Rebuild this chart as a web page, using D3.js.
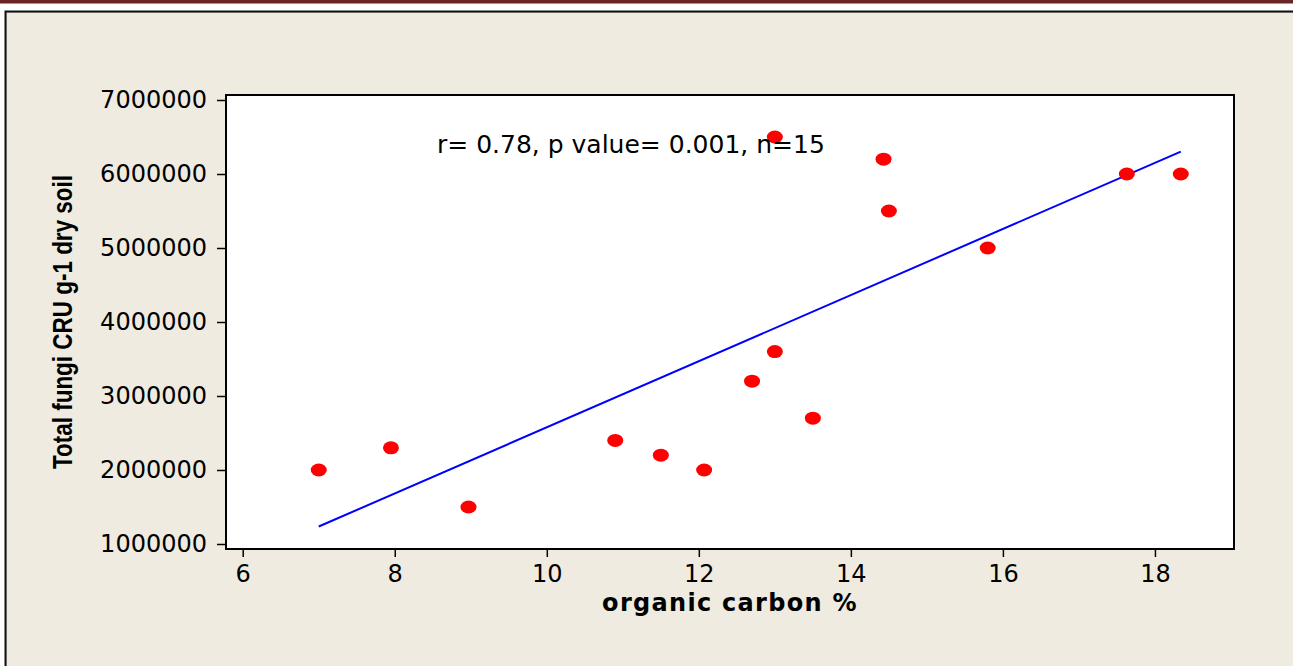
<!DOCTYPE html>
<html>
<head>
<meta charset="utf-8">
<script src="https://cdn.jsdelivr.net/npm/d3@7"></script>
<style>
  html, body { margin: 0; padding: 0; background: #ffffff; overflow: hidden; }
  svg { display: block; }
</style>
</head>
<body>
<svg id="chart" width="1293" height="666"></svg>
<script>
// Organic carbon (%) of each soil sample
const organicCarbon = [7.0, 7.95, 8.97, 10.9, 11.5, 12.07, 12.7, 13.0, 13.0, 13.5, 14.43, 14.5, 15.8, 17.63, 18.34];
// Total fungi (CFU per g dry soil) for the same samples
const totalFungi = [2000000, 2300000, 1500000, 2400000, 2200000, 2000000, 3200000, 3600000, 6500000, 2700000, 6200000, 5500000, 5000000, 6000000, 6000000];

const xTicks = [6, 8, 10, 12, 14, 16, 18];
const yTicks = [1000000, 2000000, 3000000, 4000000, 5000000, 6000000, 7000000];
const xDomain = [5.78, 19.04];
const yDomain = [932400, 7067600];

const statsLabel = "r= 0.78, p value= 0.001, n=15";
const xTitle = "organic carbon %";
const yTitle = "Total fungi CRU g-1 dry soil";

const W = 1293, H = 666;
const plot = { left: 226, top: 95, right: 1234, bottom: 549 };

const svg = d3.select("#chart");

// page header strip and the framed panel
svg.append("rect").attr("x", 0).attr("y", 0).attr("width", W).attr("height", 3.5).attr("fill", "#6b2323");
svg.append("rect").attr("x", 6).attr("y", 12).attr("width", W + 10).attr("height", H + 10)
  .attr("fill", "#efebe0").attr("stroke", "#9a9a9a").attr("stroke-width", 1);
svg.append("rect").attr("x", 5.5).attr("y", 11.5).attr("width", W + 10).attr("height", H + 10)
  .attr("fill", "none").attr("stroke", "#111").attr("stroke-width", 2);

const x = d3.scaleLinear().domain(xDomain).range([plot.left, plot.right]);
const y = d3.scaleLinear().domain(yDomain).range([plot.bottom, plot.top]);

// white plotting area
svg.append("rect")
  .attr("x", plot.left).attr("y", plot.top)
  .attr("width", plot.right - plot.left).attr("height", plot.bottom - plot.top)
  .attr("fill", "#ffffff");

const tickFont = "'DejaVu Sans', Verdana, sans-serif";

// axes
const xAxis = d3.axisBottom(x).tickValues(xTicks).tickSize(8).tickPadding(8).tickFormat(d3.format("d"));
const yAxis = d3.axisLeft(y).tickValues(yTicks).tickSize(9).tickPadding(10).tickFormat(d3.format("d"));

const gx = svg.append("g").attr("transform", `translate(0,${plot.bottom})`).call(xAxis);
const gy = svg.append("g").attr("transform", `translate(${plot.left},0)`).call(yAxis);

[gx, gy].forEach(g => {
  g.select(".domain").remove();
  g.selectAll(".tick line").attr("stroke", "#000").attr("stroke-width", 1.5);
  g.selectAll(".tick text").attr("fill", "#000").style("font-family", tickFont).style("font-size", "24px");
});

// frame around the plotting area
svg.append("rect")
  .attr("x", plot.left).attr("y", plot.top)
  .attr("width", plot.right - plot.left).attr("height", plot.bottom - plot.top)
  .attr("fill", "none").attr("stroke", "#000").attr("stroke-width", 2);

// least-squares regression line across the observed range
const n = organicCarbon.length;
const mx = d3.mean(organicCarbon), my = d3.mean(totalFungi);
let sxy = 0, sxx = 0;
for (let i = 0; i < n; i++) {
  sxy += (organicCarbon[i] - mx) * (totalFungi[i] - my);
  sxx += (organicCarbon[i] - mx) ** 2;
}
const slope = sxy / sxx, intercept = my - slope * mx;
const [xMin, xMax] = d3.extent(organicCarbon);
const fitLine = [[xMin, intercept + slope * xMin], [xMax, intercept + slope * xMax]];

svg.append("path")
  .datum(fitLine)
  .attr("fill", "none")
  .attr("stroke", "#0000ff")
  .attr("stroke-width", 2)
  .attr("d", d3.line().x(d => x(d[0])).y(d => y(d[1])));

// sample points
svg.append("g").selectAll("ellipse")
  .data(d3.range(n))
  .join("ellipse")
  .attr("cx", i => x(organicCarbon[i]))
  .attr("cy", i => y(totalFungi[i]))
  .attr("rx", 8)
  .attr("ry", 6.5)
  .attr("fill", "#ff0000");

// correlation summary
svg.append("text")
  .attr("x", 437).attr("y", 153)
  .attr("fill", "#000")
  .style("font-family", tickFont).style("font-size", "25px")
  .text(statsLabel);

// axis titles
svg.append("text")
  .attr("x", (plot.left + plot.right) / 2).attr("y", 611)
  .attr("text-anchor", "middle")
  .attr("fill", "#000")
  .style("font-family", tickFont).style("font-size", "24px").style("font-weight", "bold")
  .style("letter-spacing", "1.3px")
  .text(xTitle);

svg.append("text")
  .attr("transform", `translate(72,${(plot.top + plot.bottom) / 2}) rotate(-90)`)
  .attr("text-anchor", "middle")
  .attr("fill", "#000")
  .attr("textLength", 294)
  .attr("lengthAdjust", "spacingAndGlyphs")
  .style("font-family", "'Liberation Sans Narrow', 'Arial Narrow', 'Liberation Sans', Arial, sans-serif")
  .style("font-size", "27px").style("font-weight", "bold")
  .text(yTitle);
</script>
</body>
</html>
